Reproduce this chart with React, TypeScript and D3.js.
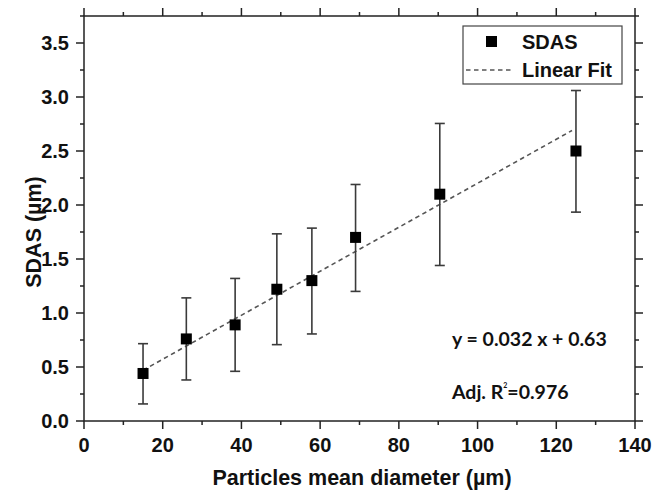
import React from "react";
import * as d3 from "d3";

const diameters = [15, 26, 38.4, 49, 57.9, 69, 90.4, 125];
const sdas = [0.44, 0.76, 0.89, 1.22, 1.3, 1.7, 2.1, 2.5];
const errUpper = [0.716, 1.14, 1.32, 1.733, 1.786, 2.19, 2.755, 3.06];
const errLower = [0.158, 0.38, 0.46, 0.707, 0.806, 1.2, 1.44, 1.934];
const fitX = [15, 124];
const fitY = [0.47, 2.69];
const xMajorTicks = [0, 20, 40, 60, 80, 100, 120, 140];
const yMajorTicks = [0, 0.5, 1, 1.5, 2, 2.5, 3, 3.5];
const xMinorTicks = [10, 30, 50, 70, 90, 110, 130];
const yMinorTicks = [0.25, 0.75, 1.25, 1.75, 2.25, 2.75, 3.25, 3.75];
const legendLabels = ["SDAS", "Linear Fit"];
const equationText = "y = 0.032 x + 0.63";
const r2Value = "0.976";

const W = 668;
const H = 494;
const L = 84, R = 635, T = 16, B = 421;

export default function App() {
  const x = d3.scaleLinear().domain([0, 140]).range([L, R]);
  const y = d3.scaleLinear().domain([0, 3.75]).range([B, T]);
  const line = d3.line<[number, number]>().x((d) => x(d[0])).y((d) => y(d[1]));
  const fitPts: [number, number][] = fitX.map((v, i) => [v, fitY[i]]);
  const axisColor = "#222";
  const tickFont = "'Liberation Sans', Arial, sans-serif";
  const annFont = "Lato, 'Open Sans', sans-serif";
  const major = 8, minor = 4;
  return (
    <svg width={W} height={H} style={{ position: "absolute", left: 0, top: 0, background: "#fff" }}>
      <rect x={0} y={0} width={W} height={H} fill="#fff" />
      {/* fit line */}
      <path d={line(fitPts) || ""} fill="none" stroke="#555" strokeWidth={1.6} strokeDasharray="4.5,3.5" />
      {/* error bars */}
      {diameters.map((d, i) => (
        <g key={"e" + i} stroke="#3a3a3a" strokeWidth={1.6}>
          <line x1={x(d)} x2={x(d)} y1={y(errUpper[i])} y2={y(errLower[i])} />
          <line x1={x(d) - 5} x2={x(d) + 5} y1={y(errUpper[i])} y2={y(errUpper[i])} />
          <line x1={x(d) - 5} x2={x(d) + 5} y1={y(errLower[i])} y2={y(errLower[i])} />
        </g>
      ))}
      {/* markers */}
      {diameters.map((d, i) => (
        <rect key={"m" + i} x={x(d) - 5.5} y={y(sdas[i]) - 5.5} width={11} height={11} fill="#000" />
      ))}
      {/* frame */}
      <rect x={L} y={T} width={R - L} height={B - T} fill="none" stroke={axisColor} strokeWidth={1.5} />
      {/* ticks on all sides */}
      {xMajorTicks.map((t) => (
        <g key={"xt" + t} stroke={axisColor} strokeWidth={1.5}>
          <line x1={x(t)} x2={x(t)} y1={B} y2={B + major} />
          <line x1={x(t)} x2={x(t)} y1={T} y2={T - major} />
        </g>
      ))}
      {xMinorTicks.map((t) => (
        <g key={"xm" + t} stroke={axisColor} strokeWidth={1.5}>
          <line x1={x(t)} x2={x(t)} y1={B} y2={B + minor} />
          <line x1={x(t)} x2={x(t)} y1={T} y2={T - minor} />
        </g>
      ))}
      {yMajorTicks.map((t) => (
        <g key={"yt" + t} stroke={axisColor} strokeWidth={1.5}>
          <line x1={L} x2={L - major} y1={y(t)} y2={y(t)} />
          <line x1={R} x2={R + major} y1={y(t)} y2={y(t)} />
        </g>
      ))}
      {yMinorTicks.map((t) => (
        <g key={"ym" + t} stroke={axisColor} strokeWidth={1.5}>
          <line x1={L} x2={L - minor} y1={y(t)} y2={y(t)} />
          <line x1={R} x2={R + minor} y1={y(t)} y2={y(t)} />
        </g>
      ))}
      {/* tick labels */}
      {xMajorTicks.map((t) => (
        <text key={"xl" + t} x={x(t)} y={452} textAnchor="middle" fontFamily={tickFont} fontWeight="bold" fontSize={20} fill="#111">
          {t}
        </text>
      ))}
      {yMajorTicks.map((t) => (
        <text key={"yl" + t} x={69} y={y(t) + 7} textAnchor="end" fontFamily={tickFont} fontWeight="bold" fontSize={20} fill="#111">
          {t.toFixed(1)}
        </text>
      ))}
      {/* axis titles */}
      <text x={362} y={485} textAnchor="middle" fontFamily={tickFont} fontWeight="bold" fontSize={21.5} fill="#111">
        Particles mean diameter (µm)
      </text>
      <text transform={`translate(41,232) rotate(-90)`} textAnchor="middle" fontFamily={tickFont} fontWeight="bold" fontSize={21.5} fill="#111">
        SDAS (µm)
      </text>
      {/* legend */}
      <rect x={463} y={26} width={159} height={58} fill="#fff" stroke="#444" strokeWidth={1.2} />
      <rect x={486} y={36} width={11} height={11} fill="#000" />
      <text x={522} y={48.5} fontFamily={tickFont} fontWeight="bold" fontSize={20} fill="#111">{legendLabels[0]}</text>
      <line x1={466} x2={512} y1={70} y2={70} stroke="#555" strokeWidth={1.6} strokeDasharray="4.5,3.5" />
      <text x={522} y={77} fontFamily={tickFont} fontWeight="bold" fontSize={20} fill="#111">{legendLabels[1]}</text>
      {/* annotations */}
      <text x={452} y={346} fontFamily={annFont} fontWeight="bold" fontSize={19.5} fill="#111">
        {equationText}
      </text>
      <text x={452} y={399} fontFamily={annFont} fontWeight="bold" fontSize={19.5} fill="#111">
        Adj. R<tspan fontSize={7} dy={-11}>2</tspan><tspan dy={11}>{"=" + r2Value}</tspan>
      </text>
    </svg>
  );
}
